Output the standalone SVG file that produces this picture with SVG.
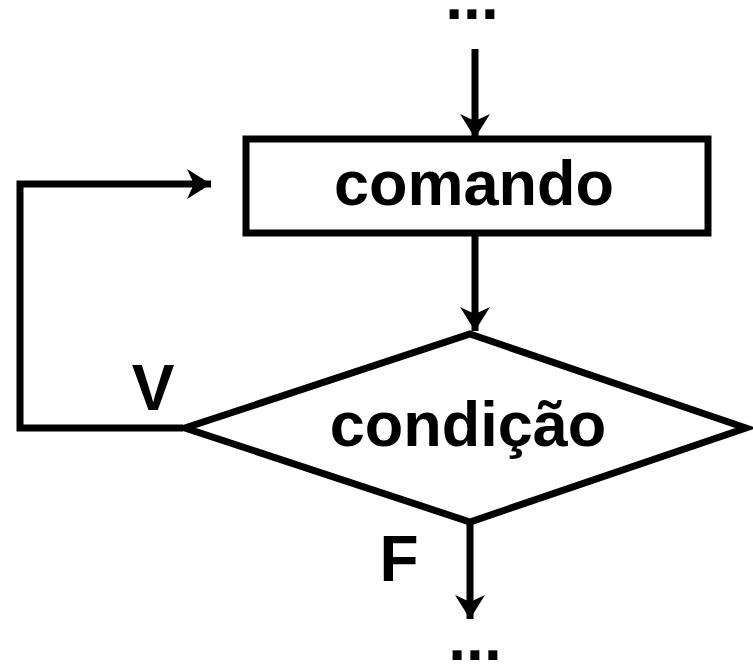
<svg xmlns="http://www.w3.org/2000/svg" width="753" height="664" viewBox="0 0 753 664">
<style>
.s{fill:none;stroke:#000;stroke-width:7}
.t{font-family:"Liberation Sans",Arial,sans-serif;font-weight:bold;fill:#000}
</style>
<defs>
<marker id="ah" viewBox="0 0 24 30" refX="24" refY="15" markerWidth="24" markerHeight="30" markerUnits="userSpaceOnUse" orient="auto">
<path d="M0,0 L24,15 L0,30 L7,15 Z" fill="#000"/>
</marker>
</defs>
<rect width="753" height="664" fill="#fff"/>
<g id="connectors">
<line class="s" x1="475" y1="49" x2="475" y2="138" marker-end="url(#ah)"/>
<line class="s" x1="475" y1="234" x2="475" y2="331" marker-end="url(#ah)"/>
<polyline class="s" points="183,428 20,428 20,184 211,184" marker-end="url(#ah)"/>
<line class="s" x1="470" y1="522" x2="470" y2="619" marker-end="url(#ah)"/>
</g>
<g id="top-dots"><text class="t" x="472" y="19" font-size="64" text-anchor="middle">...</text></g>
<g id="comando">
<rect class="s" x="246" y="139" width="462" height="94"/>
<text class="t" x="474" y="205" font-size="63" text-anchor="middle">comando</text>
</g>
<g id="condicao">
<polygon class="s" points="470,334 746,428 470,522 185,428"/>
<text class="t" x="468" y="446" font-size="63" text-anchor="middle">condição</text>
</g>
<g id="label-v"><text class="t" x="153" y="410" font-size="64" text-anchor="middle">V</text></g>
<g id="label-f"><text class="t" x="399" y="581" font-size="64" text-anchor="middle">F</text></g>
<g id="bottom-dots"><text class="t" x="475" y="660" font-size="64" text-anchor="middle">...</text></g>
</svg>
